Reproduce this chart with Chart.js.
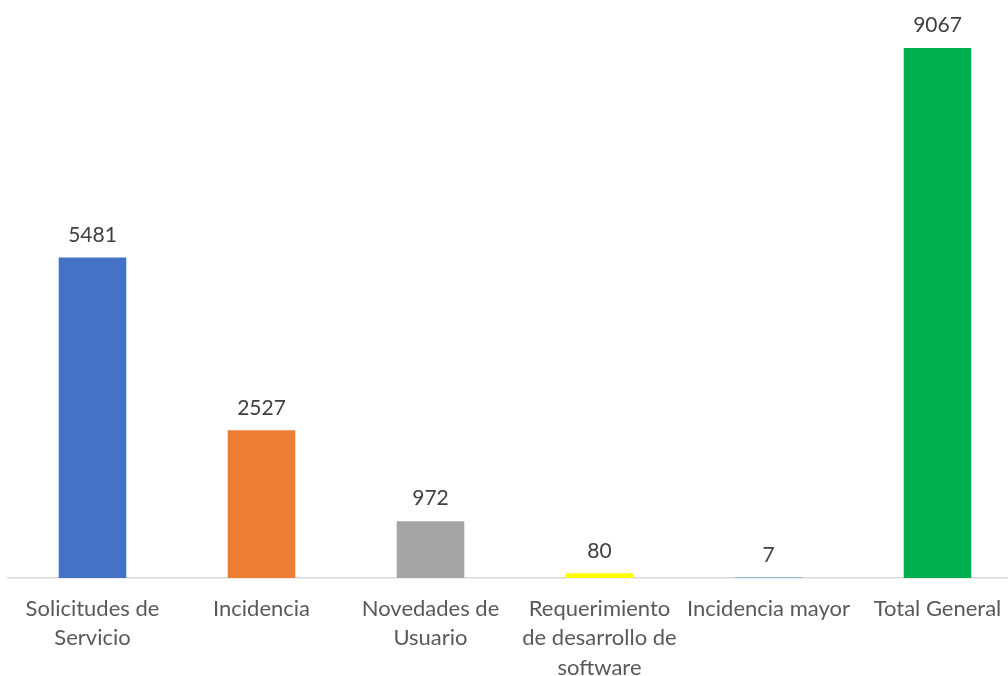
<!DOCTYPE html>
<html>
<head>
<meta charset="utf-8">
<script src="https://cdn.jsdelivr.net/npm/chart.js@4/dist/chart.umd.min.js"></script>
<style>
  html, body { margin: 0; padding: 0; background: #fff; overflow: hidden; }
  #wrap { position: relative; width: 1022px; height: 676px; }
</style>
</head>
<body>
<div id="wrap"><canvas id="myChart"></canvas></div>
<script>
// data
const categories = [
  ['Solicitudes de', 'Servicio'],
  'Incidencia',
  ['Novedades de', 'Usuario'],
  ['Requerimiento', 'de desarrollo de', 'software'],
  'Incidencia mayor',
  'Total General'
];
const values = [5481, 2527, 972, 80, 7, 9067];
const barColors = ['#4472C4', '#ED7D31', '#A5A5A5', '#FFFF00', '#5B9BD5', '#00B050'];

// value labels above each bar
const valueLabels = {
  id: 'valueLabels',
  afterDatasetsDraw(chart) {
    const ctx = chart.ctx;
    const meta = chart.getDatasetMeta(0);
    ctx.save();
    ctx.font = '21px Lato, "Open Sans", sans-serif';
    ctx.fillStyle = '#404040';
    ctx.textAlign = 'center';
    ctx.textBaseline = 'bottom';
    meta.data.forEach((bar, i) => {
      ctx.fillText(String(values[i]), bar.x, bar.y - 12);
    });
    ctx.restore();
  }
};

const config = {
  type: 'bar',
  data: {
    labels: categories,
    datasets: [{
      data: values,
      backgroundColor: barColors,
      borderWidth: 0,
      barPercentage: 0.4,
      categoryPercentage: 1
    }]
  },
  options: {
    responsive: true,
    maintainAspectRatio: false,
    animation: false,
    layout: { padding: { top: 20, left: 8, right: 0, bottom: 0 } },
    plugins: {
      legend: { display: false },
      tooltip: { enabled: false }
    },
    scales: {
      y: {
        display: false,
        min: 0,
        max: 9546
      },
      x: {
        afterFit(scale) { scale.height = 98; },
        grid: { display: false, drawTicks: false },
        border: { display: true, color: '#d9d9d9', width: 1.5 },
        ticks: {
          color: '#595959',
          maxRotation: 0,
          autoSkip: false,
          padding: 16,
          font: { family: 'Lato, "Open Sans", sans-serif', size: 22, lineHeight: 1.34 }
        }
      }
    }
  },
  plugins: [valueLabels]
};

const myChart = new Chart(document.getElementById('myChart'), config);
</script>
</body>
</html>
